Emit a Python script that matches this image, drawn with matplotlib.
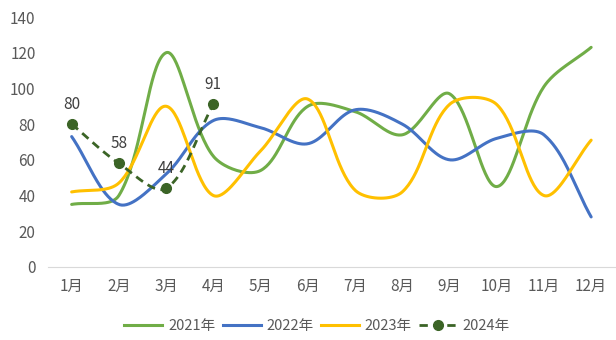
import numpy as np
import matplotlib
matplotlib.use("Agg")
import matplotlib.pyplot as plt
from matplotlib.lines import Line2D

plt.rcParams['font.family'] = ['Noto Sans CJK SC', 'DejaVu Sans']

# ------------------ data ------------------
months = ["1月", "2月", "3月", "4月", "5月", "6月", "7月", "8月", "9月", "10月", "11月", "12月"]
y2021 = [35, 40, 120, 62, 54, 90, 87, 74, 97, 45, 101, 123]
y2022 = [73, 35, 52, 82, 78, 69, 88, 80, 60, 72, 74, 28]
y2023 = [42, 47, 90, 40, 65, 94, 43, 42, 91, 91, 40, 71]
y2024 = [80, 58, 44, 91]
y_ticks = [0, 20, 40, 60, 80, 100, 120, 140]

C2021 = "#70AD47"
C2022 = "#4472C4"
C2023 = "#FFC000"
C2024 = "#3B6426"

# pixel size of one unit on each axis (for the curve shape only)
SX, SY = 47.2, 1.786


# ------------------ Excel-like smoothed line ------------------
def smooth(xs, ys, n=40):
    # bezier through the points, control arms weighted by neighbour segment length
    P = np.column_stack([np.asarray(xs, float) * SX, np.asarray(ys, float) * SY])
    m = len(P)
    d = np.hypot(*np.diff(P, axis=0).T)
    t = np.linspace(0, 1, n)
    out = []
    for i in range(m - 1):
        p0, p3 = P[i], P[i + 1]
        if i > 0:
            c1 = p0 + (P[i + 1] - P[i - 1]) * d[i] / (d[i - 1] + d[i]) / 3
        else:
            c1 = p0 + (P[1] - P[0]) / 3
        if i + 2 < m:
            c2 = p3 - (P[i + 2] - P[i]) * d[i] / (d[i] + d[i + 1]) / 3
        else:
            c2 = p3 - (P[i + 1] - P[i]) / 3
        b = ((1 - t) ** 3)[:, None] * p0 + (3 * (1 - t) ** 2 * t)[:, None] * c1 \
            + (3 * (1 - t) * t ** 2)[:, None] * c2 + (t ** 3)[:, None] * p3
        out.append(b)
    out = np.vstack(out)
    return out[:, 0] / SX, out[:, 1] / SY


fig = plt.figure(figsize=(6.16, 3.4), dpi=100)
ax = fig.add_axes([0.078, 0.215, 0.92, 0.735])

x = np.arange(len(months))
for vals, col in [(y2021, C2021), (y2022, C2022), (y2023, C2023)]:
    sx, sy = smooth(x, vals)
    ax.plot(sx, sy, color=col, lw=2.2, solid_capstyle='round')

x4 = np.arange(len(y2024))
sx, sy = smooth(x4, y2024)
ax.plot(sx, sy, color=C2024, lw=2, ls=(0, (3, 2)))
ax.plot(x4, y2024, 'o', color=C2024, ms=7)
for xi, v in zip(x4, y2024):
    ax.annotate(str(v), (xi, v), xytext=(0, 8), textcoords='offset points',
                ha='center', va='bottom', fontsize=11, color='#404040')

ax.set_xlim(-0.5, len(months) - 0.5)
ax.set_ylim(0, 140)
ax.set_yticks(y_ticks)
ax.set_xticks(x)
ax.set_xticklabels(months)
ax.tick_params(length=0, labelsize=11, colors='#595959')
ax.tick_params(axis='x', pad=8)
ax.tick_params(axis='y', pad=9)
for s in ['left', 'right', 'top']:
    ax.spines[s].set_visible(False)
ax.spines['bottom'].set_color('#D9D9D9')

handles = [
    Line2D([], [], color=C2021, lw=2.2),
    Line2D([], [], color=C2022, lw=2.2),
    Line2D([], [], color=C2023, lw=2.2),
    Line2D([], [], color=C2024, lw=2, ls=(0, (3, 2)), marker='o', ms=7),
]
leg = fig.legend(handles, ["2021年", "2022年", "2023年", "2024年"], loc='lower center',
                 bbox_to_anchor=(0.515, -0.018), ncol=4, frameon=False, fontsize=10.5,
                 handlelength=2.6, handletextpad=0.4, columnspacing=0.5)
for t in leg.get_texts():
    t.set_color('#595959')

fig.savefig("out.png", dpi=100)
